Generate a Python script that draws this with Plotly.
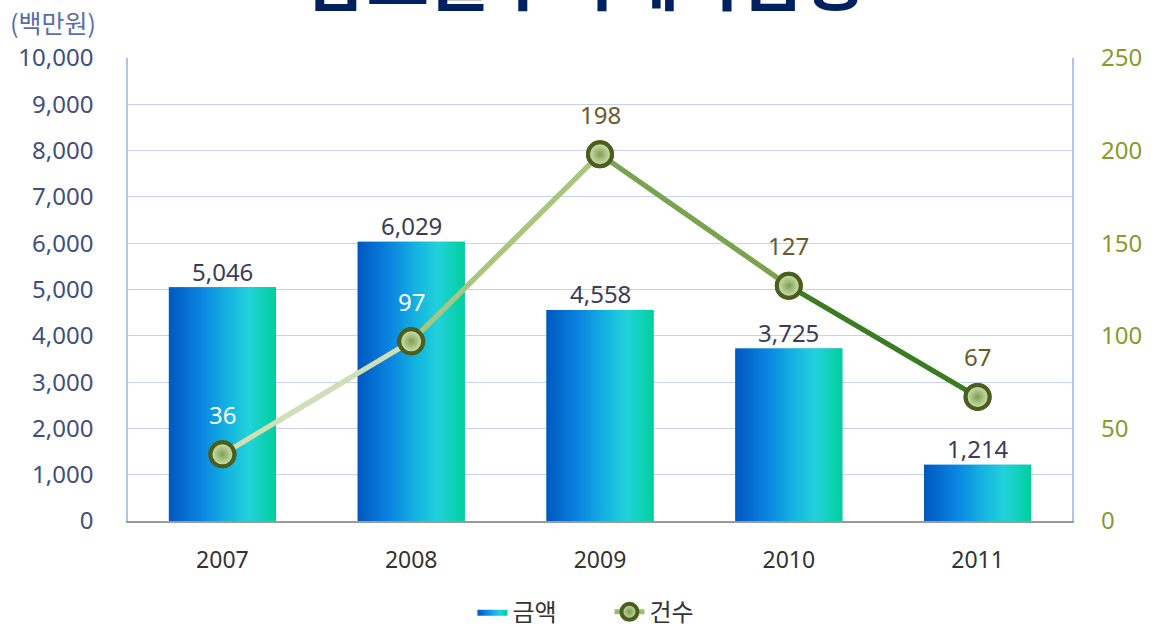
import plotly.graph_objects as go

years = ["2007", "2008", "2009", "2010", "2011"]
amount = [5046, 6029, 4558, 3725, 1214]      # 금액 (백만원)
count = [36, 97, 198, 127, 67]               # 건수
left_ticks = [0, 1000, 2000, 3000, 4000, 5000, 6000, 7000, 8000, 9000, 10000]
right_ticks = [0, 50, 100, 150, 200, 250]
title_text = "담보물수탁계약급증"
unit_text = "(백만원)"
bar_name = "금액"
line_name = "건수"

FONT = "Noto Sans, Noto Sans CJK KR, sans-serif"
KFONT = "Noto Sans CJK KR, Noto Sans, sans-serif"
BAR_W = 0.567
bar_scale = [[0, "#0058c0"], [0.3, "#0a84e0"], [0.55, "#14b4e0"],
             [0.75, "#22d2da"], [1, "#00d09c"]]
seg_colors = ["#cfe0b8", "#a9c67e", "#7aa350", "#3a7c22"]

xs = list(range(len(years)))
fig = go.Figure()

# real bars (covered by gradient overlay)
fig.add_trace(go.Bar(x=xs, y=amount, width=BAR_W, name=bar_name,
                     marker=dict(color="#0c9ad8", line=dict(width=0)),
                     yaxis="y", showlegend=False, hoverinfo="skip"))
# gradient overlay for each bar
for n, (i, v) in enumerate(zip(xs, amount)):
    fig.add_trace(go.Scatter(
        x=[i - BAR_W / 2, i + BAR_W / 2, i + BAR_W / 2, i - BAR_W / 2, i - BAR_W / 2],
        y=[0, 0, v, v, 0], mode="lines", fill="toself", name=bar_name,
        line=dict(width=0, color="rgba(0,0,0,0)"),
        fillgradient=dict(type="horizontal", colorscale=bar_scale),
        showlegend=(n == 0), hoverinfo="skip", yaxis="y"))

# legend + base line for count
fig.add_trace(go.Scatter(x=xs, y=count, mode="lines+markers", name=line_name,
                         line=dict(color="#9cbd6c", width=5),
                         marker=dict(size=24, color="#cfe3ae",
                                     gradient=dict(type="radial", color="#7c9c50"),
                                     line=dict(color="#4b5e1e", width=4)),
                         yaxis="y2", showlegend=True))
# gradient-like segments
for k in range(len(xs) - 1):
    fig.add_trace(go.Scatter(x=xs[k:k + 2], y=count[k:k + 2], mode="lines",
                             line=dict(color=seg_colors[k], width=5),
                             yaxis="y2", showlegend=False, hoverinfo="skip"))
# markers on top
fig.add_trace(go.Scatter(x=xs, y=count, mode="markers",
                         marker=dict(size=24, color="#d6e8b8",
                                     gradient=dict(type="radial", color="#7f9f52"),
                                     line=dict(color="#4b5e1e", width=4)),
                         yaxis="y2", showlegend=False))

ann = []
for i, v in zip(xs, amount):
    ann.append(dict(x=i, y=v, xref="x", yref="y", text=f"{v:,}", showarrow=False,
                    yanchor="middle", yshift=16,
                    font=dict(family=FONT, size=24, color="#3c3c5a")))
for i, c, v in zip(xs, count, amount):
    inside = c * (left_ticks[-1] / right_ticks[-1]) + 1000 < v
    ann.append(dict(x=i, y=c, xref="x", yref="y2", text=str(c), showarrow=False,
                    yanchor="middle", yshift=40,
                    font=dict(family=FONT, size=24,
                              color="#ffffff" if inside else "#6b5a2c")))
ann.append(dict(x=0.485, y=1, xref="paper", yref="paper", text=f"<b>{title_text}</b>",
                showarrow=False, xanchor="center", yanchor="bottom", yshift=31,
                font=dict(family=KFONT, size=68, color="#002060")))
ann.append(dict(x=-0.127, y=1, xref="paper", yref="paper", text=unit_text,
                showarrow=False, xanchor="left", yanchor="middle", yshift=36,
                font=dict(family=KFONT, size=25, color="#5a6ea6")))

fig.update_layout(
    width=1156, height=627,
    margin=dict(l=128, r=84, t=58, b=106, autoexpand=False),
    paper_bgcolor="white", plot_bgcolor="white",
    barmode="overlay",
    xaxis=dict(range=[-0.5, 4.5], tickvals=xs, ticktext=years, showgrid=False,
               zeroline=False, showline=True, linecolor="#9a9a9a", linewidth=1.5,
               ticks="", tickfont=dict(family=FONT, size=23, color="#333333"),
               ticklabelstandoff=18),
    yaxis=dict(range=[0, 10000], tickvals=left_ticks,
               ticktext=[f"{t:,}" for t in left_ticks],
               showgrid=True, gridcolor="#c6d0f0", gridwidth=1.3, zeroline=False,
               showline=True, linecolor="#b2c2ea", linewidth=1.5, mirror=True,
               ticks="", tickfont=dict(family=FONT, size=24, color="#3f4f7f"),
               ticklabelstandoff=28),
    yaxis2=dict(range=[0, 250], tickvals=right_ticks, overlaying="y", side="right",
                showgrid=False, zeroline=False, showline=False, ticks="",
                tickfont=dict(family=FONT, size=24, color="#8a9a2a"),
                ticklabelstandoff=28),
    legend=dict(orientation="h", x=0.51, xanchor="center", y=-0.197, yanchor="middle",
                font=dict(family=KFONT, size=24, color="#333333"),
                entrywidth=92, entrywidthmode="pixels",
                bgcolor="rgba(0,0,0,0)"),
    annotations=ann,
    showlegend=True,
)

fig.write_html("out.html")
